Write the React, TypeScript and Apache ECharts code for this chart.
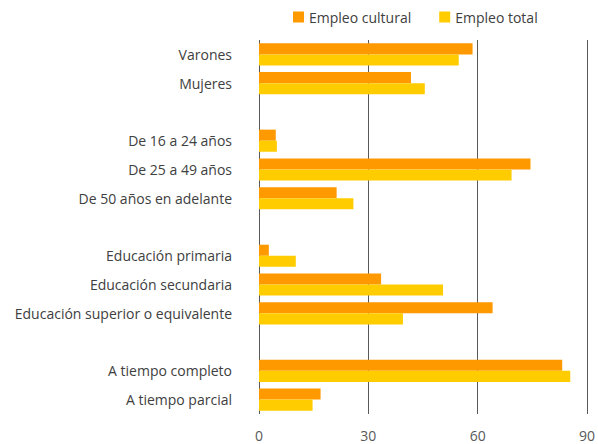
import React, { useEffect, useRef } from "react";
import * as echarts from "echarts";

const categories = [
  "Varones",
  "Mujeres",
  "",
  "De 16 a 24 años",
  "De 25 a 49 años",
  "De 50 años en adelante",
  " ",
  "Educación primaria",
  "Educación secundaria",
  "Educación superior o equivalente",
  "  ",
  "A tiempo completo",
  "A tiempo parcial",
];

const empleoCultural = [58.6, 41.7, null, 4.6, 74.5, 21.3, null, 2.7, 33.5, 64.1, null, 83.2, 16.9];
const empleoTotal = [54.8, 45.5, null, 4.9, 69.3, 25.9, null, 10.1, 50.5, 39.5, null, 85.4, 14.7];

const xTicks = { min: 0, max: 90, interval: 30 };

export default function App() {
  const ref = useRef<HTMLDivElement>(null);
  useEffect(() => {
    if (!ref.current) return;
    const chart = echarts.init(ref.current, undefined, { renderer: "svg" });
    const font = "Open Sans";
    chart.setOption({
      animation: false,
      textStyle: { fontFamily: font },
      legend: {
        top: 5,
        left: 288,
        itemWidth: 11,
        itemHeight: 11,
        itemGap: 28,
        icon: "rect",
        textStyle: { fontFamily: font, fontSize: 14, color: "#404040" },
        data: ["Empleo cultural", "Empleo total"],
      },
      grid: { left: 259, right: 9, top: 40, bottom: 30, containLabel: false },
      xAxis: {
        type: "value",
        min: xTicks.min,
        max: xTicks.max,
        interval: xTicks.interval,
        axisLine: { show: false },
        axisTick: { show: false },
        splitLine: { show: true, lineStyle: { color: "#595959", width: 1 } },
        axisLabel: { color: "#595959", fontSize: 14, fontFamily: font, margin: 14 },
      },
      yAxis: {
        type: "category",
        data: categories,
        inverse: true,
        axisLine: { show: false },
        axisTick: { show: false },
        axisLabel: { color: "#404040", fontSize: 14, fontFamily: font, margin: 27 },
      },
      series: [
        {
          name: "Empleo cultural",
          type: "bar",
          data: empleoCultural,
          itemStyle: { color: "#FF9900" },
          barGap: "0%",
          barCategoryGap: "23%",
        },
        {
          name: "Empleo total",
          type: "bar",
          data: empleoTotal,
          itemStyle: { color: "#FFCC00" },
          barGap: "0%",
          barCategoryGap: "23%",
        },
      ],
    });
    return () => chart.dispose();
  }, []);
  return <div ref={ref} style={{ width: 598, height: 444, position: "absolute", left: 0, top: 0 }} />;
}
